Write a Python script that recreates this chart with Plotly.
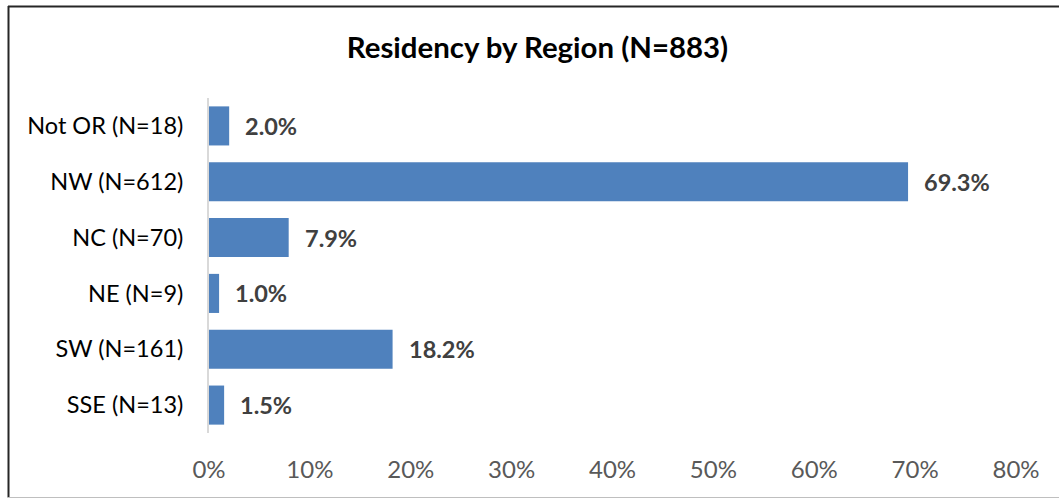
import plotly.graph_objects as go

categories = ["Not OR (N=18)", "NW (N=612)", "NC (N=70)", "NE (N=9)", "SW (N=161)", "SSE (N=13)"]
values = [0.020, 0.693, 0.079, 0.010, 0.182, 0.015]
labels = ["2.0%", "69.3%", "7.9%", "1.0%", "18.2%", "1.5%"]
tick_vals = [0, 0.1, 0.2, 0.3, 0.4, 0.5, 0.6, 0.7, 0.8]
tick_text = ["0%", "10%", "20%", "30%", "40%", "50%", "60%", "70%", "80%"]
title_text = "Residency by Region (N=883)"

FONT = "Lato"
W, H = 1059, 500
L, R, T, B = 209, 43, 98, 67

fig = go.Figure()
fig.add_trace(go.Bar(
    x=values, y=categories, orientation="h",
    marker=dict(color="#4F81BD", line=dict(width=0)),
    hoverinfo="skip",
))

for v, c, t in zip(values, categories, labels):
    fig.add_annotation(x=v, y=c, text=t, showarrow=False, xanchor="left",
                       xshift=14, font=dict(family=FONT, size=23.5, color="#404040", weight="bold"))

pw = W - L - R
ph = H - T - B
def px(xp):
    return (xp - L) / pw
def py(yp):
    return 1 - (yp - T) / ph

# chart border (left, top dark; bottom light)
fig.add_shape(type="line", xref="paper", yref="paper", x0=px(8.5), x1=px(8.5), y0=py(6), y1=py(497.5),
              line=dict(color="#262626", width=2))
fig.add_shape(type="line", xref="paper", yref="paper", x0=px(8), x1=px(1059), y0=py(6.5), y1=py(6.5),
              line=dict(color="#262626", width=2))
fig.add_shape(type="line", xref="paper", yref="paper", x0=px(8), x1=px(1059), y0=py(497.5), y1=py(497.5),
              line=dict(color="#BFBFBF", width=1))

fig.update_layout(
    width=W, height=H,
    margin=dict(l=L, r=R, t=T, b=B),
    paper_bgcolor="white", plot_bgcolor="white",
    bargap=0.3,
    showlegend=False,
    title=dict(text=title_text, xref="container", x=537.5 / W, xanchor="center",
               yref="container", y=1 - 48 / H, yanchor="middle",
               font=dict(family=FONT, size=29.4, color="#000000", weight="bold")),
    xaxis=dict(range=[0, 0.8], tickvals=tick_vals, ticktext=tick_text, showgrid=False,
               zeroline=False, showline=False, ticks="", ticklabelstandoff=20,
               tickfont=dict(family=FONT, size=24, color="#595959")),
    yaxis=dict(categoryorder="array", categoryarray=categories, autorange="reversed",
               showgrid=False, zeroline=False, showline=True, linecolor="#D9D9D9", linewidth=2,
               ticks="", ticklabelstandoff=19,
               tickfont=dict(family=FONT, size=23.5, color="#000000")),
)

fig.write_html("out.html", config={"displayModeBar": False},
               post_script="document.body.style.margin='0';")
